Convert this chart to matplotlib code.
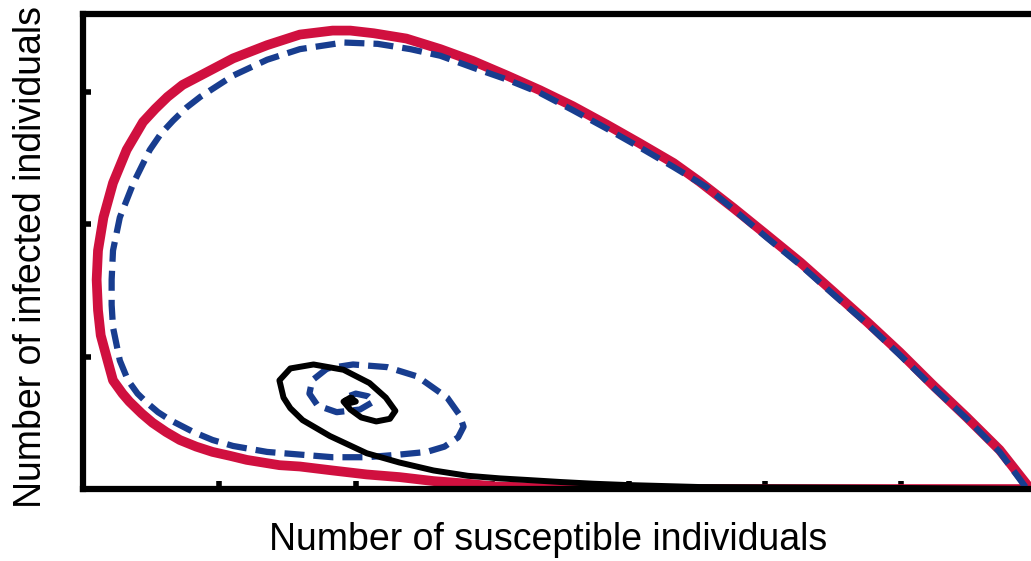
import matplotlib.pyplot as plt

# trajectories (susceptible, infected), arbitrary units
red_s = [6.93, 6.72, 6.48, 6.23, 5.99, 5.75, 5.50, 5.26, 5.01, 4.77, 4.52, 4.33, 4.08, 3.84,
         3.59, 3.35, 3.11, 2.86, 2.62, 2.37, 2.13, 1.96, 1.83, 1.59, 1.35, 1.10, 0.86, 0.73,
         0.62, 0.53, 0.44, 0.32, 0.22, 0.15, 0.11, 0.10, 0.11, 0.13, 0.18, 0.22, 0.29, 0.34,
         0.43, 0.51, 0.61, 0.71, 0.83, 0.95, 1.08, 1.20, 1.44, 1.59, 1.83, 2.08, 2.32, 2.57,
         2.82, 3.01, 3.79, 5.26, 6.93]
red_i = [0.02, 0.295, 0.54, 0.785, 1.03, 1.26, 1.49, 1.71, 1.92, 2.12, 2.32, 2.46, 2.61, 2.75,
         2.89, 3.01, 3.12, 3.23, 3.32, 3.40, 3.44, 3.46, 3.46, 3.43, 3.35, 3.25, 3.12, 3.05,
         2.96, 2.87, 2.77, 2.56, 2.31, 2.05, 1.80, 1.58, 1.35, 1.16, 0.97, 0.82, 0.72, 0.66,
         0.57, 0.50, 0.43, 0.37, 0.32, 0.28, 0.25, 0.22, 0.18, 0.17, 0.14, 0.11, 0.09, 0.06,
         0.04, 0.02, 0.0, 0.0, 0.0]

blue_s = [6.91, 6.72, 6.48, 6.23, 5.99, 5.75, 5.50, 5.26, 5.01, 4.77, 4.57, 4.33, 4.08, 3.84,
          3.59, 3.35, 3.11, 2.86, 2.62, 2.40, 2.16, 1.91, 1.59, 1.35, 1.10, 0.86, 0.76, 0.66,
          0.57, 0.49, 0.37, 0.27, 0.22, 0.21, 0.21, 0.22, 0.27, 0.33, 0.40, 0.47, 0.55, 0.64,
          0.81, 0.95, 1.10, 1.35, 1.59, 1.83, 2.08, 2.32, 2.52, 2.65, 2.75, 2.79, 2.76, 2.67,
          2.45, 2.23, 1.98, 1.79, 1.68, 1.66, 1.72, 1.86, 2.03, 2.13, 2.09, 2.00, 1.92, 1.96]
blue_i = [0.015, 0.28, 0.53, 0.77, 1.01, 1.245, 1.47, 1.69, 1.90, 2.11, 2.28, 2.43, 2.58, 2.72,
          2.86, 2.99, 3.09, 3.18, 3.27, 3.32, 3.36, 3.37, 3.32, 3.24, 3.12, 2.96, 2.88, 2.78,
          2.68, 2.56, 2.31, 2.05, 1.80, 1.58, 1.39, 1.22, 0.97, 0.82, 0.72, 0.65, 0.58, 0.52,
          0.43, 0.37, 0.325, 0.28, 0.26, 0.24, 0.24, 0.26, 0.28, 0.32, 0.39, 0.47, 0.56, 0.69,
          0.85, 0.92, 0.94, 0.91, 0.82, 0.72, 0.63, 0.58, 0.60, 0.66, 0.70, 0.72, 0.69, 0.66]

black_s = [6.95, 5.99, 4.52, 3.99, 3.74, 3.50, 3.26, 3.06, 2.82, 2.57, 2.32, 2.08, 1.81, 1.61,
           1.52, 1.47, 1.44, 1.52, 1.69, 1.91, 2.10, 2.22, 2.29, 2.25, 2.15, 2.04, 1.96, 1.91,
           1.96, 2.00, 1.96, 1.93, 1.97]
black_i = [0.0, 0.008, 0.015, 0.03, 0.04, 0.053, 0.068, 0.08, 0.10, 0.14, 0.20, 0.27, 0.40, 0.52,
           0.61, 0.69, 0.82, 0.91, 0.94, 0.90, 0.80, 0.69, 0.59, 0.53, 0.51, 0.54, 0.60, 0.66,
           0.69, 0.66, 0.65, 0.67, 0.68]

fig = plt.figure(figsize=(10.31, 5.61), dpi=100)
ax = fig.add_axes([0.0805, 0.1283, 0.9195, 0.8467])

ax.plot(red_s, red_i, color='#D0103F', lw=7, solid_joinstyle='round', solid_capstyle='round', zorder=2)
ax.plot(blue_s, blue_i, color='#183D8F', lw=4.5, dashes=(3.2, 1.45), dash_capstyle='butt',
        dash_joinstyle='round', zorder=3)
ax.plot(black_s, black_i, color='black', lw=4.3, solid_joinstyle='round', zorder=4)

ax.set_xlim(0, 6.95)
ax.set_ylim(0, 3.585)
ax.set_xticks([1, 2, 3, 4, 5, 6])
ax.set_yticks([1, 2, 3])
ax.tick_params(direction='in', length=6, width=4, labelbottom=False, labelleft=False)
for s in ['left', 'bottom', 'top']:
    ax.spines[s].set_linewidth(4.5)
ax.spines['right'].set_visible(False)

ax.set_xlabel('Number of susceptible individuals', family='Liberation Sans', fontsize=27)
ax.set_ylabel('Number of infected individuals', family='Liberation Sans', fontsize=27)
ax.xaxis.set_label_coords(0.491, -0.07)
ax.yaxis.set_label_coords(-0.036, 0.488)

plt.savefig('out.png')
